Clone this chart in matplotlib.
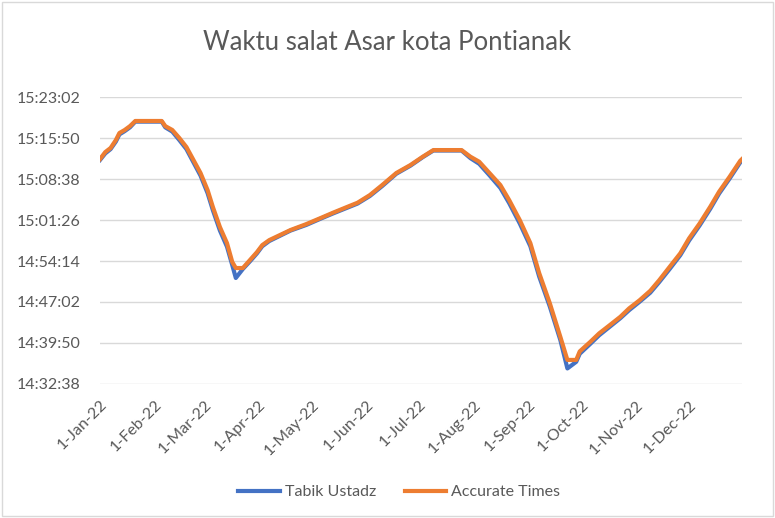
import matplotlib
matplotlib.use("Agg")
import matplotlib.pyplot as plt
import matplotlib.dates as mdates
import pandas as pd
from matplotlib.ticker import FixedLocator, FuncFormatter
from matplotlib.patches import Rectangle

plt.rcParams['font.family'] = ['Lato', 'DejaVu Sans']

# tanggal titik baca (2022)
dates = ["01-01", "01-04", "01-07", "01-10", "01-12", "01-15", "01-18", "01-21",
         "02-05", "02-07", "02-11", "02-15", "02-19", "02-23", "02-27", "03-03",
         "03-06", "03-10", "03-14", "03-17", "03-19", "03-23", "03-27", "03-31",
         "04-03", "04-07", "04-13", "04-19", "04-28", "05-06", "05-13", "05-21",
         "05-27", "06-03", "06-10", "06-18", "06-26", "07-03", "07-09", "07-25",
         "07-30", "08-04", "08-10", "08-16", "08-21", "08-27", "09-02", "09-07",
         "09-13", "09-19", "09-23", "09-28", "09-30", "10-06", "10-11", "10-17",
         "10-23", "10-28", "11-03", "11-09", "11-14", "11-20", "11-26", "12-01",
         "12-07", "12-13", "12-18", "12-24", "12-30", "12-31"]

tabik_ustadz = ["15:12:00", "15:13:10", "15:13:55", "15:15:15", "15:16:30", "15:17:05", "15:17:45", "15:18:45",
                "15:18:45", "15:17:45", "15:17:00", "15:15:30", "15:13:55", "15:11:35", "15:09:15", "15:06:10",
                "15:03:10", "14:59:35", "14:56:45", "14:53:30", "14:51:15", "14:52:50", "14:54:10", "14:55:35",
                "14:56:50", "14:57:45", "14:58:40", "14:59:35", "15:00:35", "15:01:40", "15:02:35", "15:03:35",
                "15:04:20", "15:05:40", "15:07:25", "15:09:35", "15:11:00", "15:12:30", "15:13:40", "15:13:40",
                "15:12:20", "15:11:20", "15:09:15", "15:07:05", "15:04:25", "15:00:50", "14:56:50", "14:51:30",
                "14:46:15", "14:40:20", "14:35:20", "14:36:30", "14:37:55", "14:39:40", "14:41:10", "14:42:40",
                "14:44:10", "14:45:35", "14:47:05", "14:48:40", "14:50:30", "14:52:50", "14:55:15", "14:57:50",
                "15:00:30", "15:03:25", "15:06:05", "15:08:45", "15:11:35", "15:11:55"]

accurate_times = ["15:12:10", "15:13:24", "15:14:07", "15:15:31", "15:16:45", "15:17:17", "15:17:58", "15:18:52",
                  "15:18:52", "15:17:58", "15:17:17", "15:15:52", "15:14:17", "15:12:00", "15:09:43", "15:06:43",
                  "15:03:44", "15:00:12", "14:57:23", "14:54:03", "14:53:00", "14:53:00", "14:54:24", "14:55:48",
                  "14:57:02", "14:57:55", "14:58:48", "14:59:41", "15:00:44", "15:01:47", "15:02:43", "15:03:44",
                  "15:04:29", "15:05:50", "15:07:36", "15:09:43", "15:11:07", "15:12:35", "15:13:45", "15:13:45",
                  "15:12:35", "15:11:42", "15:09:39", "15:07:36", "15:04:57", "15:01:26", "14:57:23", "14:52:07",
                  "14:46:50", "14:40:54", "14:36:50", "14:36:50", "14:38:20", "14:40:01", "14:41:30", "14:42:57",
                  "14:44:25", "14:45:54", "14:47:21", "14:49:00", "14:50:50", "14:53:13", "14:55:35", "14:58:13",
                  "15:00:51", "15:03:47", "15:06:25", "15:09:04", "15:11:52", "15:12:10"]

y_ticks = ["14:32:38", "14:39:50", "14:47:02", "14:54:14", "15:01:26", "15:08:38", "15:15:50", "15:23:02"]


def to_sec(s):
    h, m, d = map(int, s.split(":"))
    return h * 3600 + m * 60 + d


def fmt_sec(v, pos=None):
    v = int(round(v))
    return f"{v // 3600}:{(v % 3600) // 60:02d}:{v % 60:02d}"


x = pd.to_datetime(["2022-" + d for d in dates])

fig = plt.figure(figsize=(7.75, 5.18), dpi=100)
ax = fig.add_axes([100 / 775, 1 - 383.8 / 518, 642 / 775, (383.8 - 97.3) / 518])

ax.plot(x, [to_sec(v) for v in tabik_ustadz], color='#4472C4', lw=3, label='Tabik Ustadz',
        solid_joinstyle='round')
ax.plot(x, [to_sec(v) for v in accurate_times], color='#ED7D31', lw=3, label='Accurate Times',
        solid_joinstyle='round')

yt = [to_sec(v) for v in y_ticks]
ax.set_ylim(yt[0], yt[-1])
ax.yaxis.set_major_locator(FixedLocator(yt))
ax.yaxis.set_major_formatter(FuncFormatter(fmt_sec))
ax.set_xlim(pd.Timestamp("2022-01-01"), pd.Timestamp("2022-12-31"))
ax.xaxis.set_major_locator(mdates.MonthLocator())
ax.xaxis.set_major_formatter(mdates.DateFormatter('%-d-%b-%y'))

ax.grid(axis='y', color='#D9D9D9', lw=1)
ax.set_axisbelow(True)
for s in ax.spines.values():
    s.set_visible(False)
ax.tick_params(length=0, labelcolor='#595959', labelsize=11.5)
ax.tick_params(axis='y', pad=14)
ax.tick_params(axis='x', pad=10)
for lab in ax.get_xticklabels():
    lab.set_rotation(45)
    lab.set_ha('right')
    lab.set_va('top')
    lab.set_rotation_mode('anchor')

fig.text(0.5, 1 - 42 / 518, "Waktu salat Asar kota Pontianak", ha='center', va='center',
         fontsize=18.5, color='#595959')

fig.legend(loc='center', bbox_to_anchor=(0.515, 1 - 492 / 518), ncol=2, frameon=False,
           fontsize=11.5, labelcolor='#595959', handlelength=2.6, handletextpad=0.3, columnspacing=1.8)

fig.patches.append(Rectangle((0.003, 0.003), 0.994, 0.994, transform=fig.transFigure,
                             fill=False, edgecolor='#D9D9D9', lw=1))

fig.savefig("out.png", dpi=100)
